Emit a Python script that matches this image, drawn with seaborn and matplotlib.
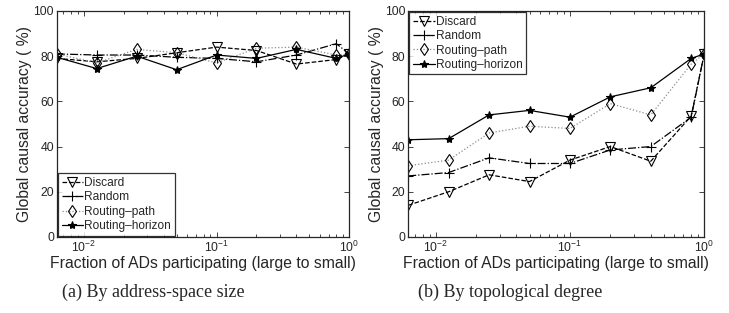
import matplotlib
matplotlib.use("Agg")
import matplotlib.pyplot as plt
import seaborn as sns
import pandas as pd

# fraction of ADs participating
fractions = [0.00625, 0.0125, 0.025, 0.05, 0.1, 0.2, 0.4, 0.8, 1.0]

# (a) by address-space size
a_discard = [79, 77.5, 79, 81.5, 84, 82.5, 76.5, 78.5, 81]
a_random = [81, 80.5, 80.5, 79.5, 79, 77.5, 80.5, 85.5, 81]
a_path = [81, 77, 83, 81.5, 77, 83.5, 84, 80.5, 81]
a_horizon = [79.5, 74.5, 80, 74, 80.5, 79, 83, 79, 81]

# (b) by topological degree
b_discard = [14, 20, 27.5, 24.5, 34, 40, 33.5, 53.5, 81]
b_random = [27, 28.5, 35, 32.5, 32.5, 38.5, 40, 53, 81]
b_path = [31.5, 34, 46, 49, 48, 59, 54, 76.5, 81]
b_horizon = [43, 43.5, 54, 56, 53, 62, 66, 79, 81]

names = ["Discard", "Random", "Routing\u2013path", "Routing\u2013horizon"]
captions = ["(a) By address-space size", "(b) By topological degree"]
caption_x = [0.21, 0.70]

styles = {
    "Discard": dict(ls="--", marker="v", color="black", ms=6.5, mfc="none"),
    "Random": dict(ls="-.", marker="+", color="black", ms=7.5, mfc="none"),
    "Routing\u2013path": dict(ls=":", marker="d", color="#8c8c8c", ms=6, mfc="none"),
    "Routing\u2013horizon": dict(ls="-", marker="*", color="black", ms=6, mfc="black"),
}

sns.set_style("ticks")
plt.rcParams["font.family"] = ["Liberation Sans", "DejaVu Sans"]

fig = plt.figure(figsize=(7.29, 3.13), dpi=100)
ax_a = fig.add_axes([0.078, 0.243, 0.401, 0.722])
ax_b = fig.add_axes([0.560, 0.243, 0.406, 0.722])

panels = [
    (ax_a, [a_discard, a_random, a_path, a_horizon], "lower left"),
    (ax_b, [b_discard, b_random, b_path, b_horizon], "upper left"),
]

for i, (ax, series, loc) in enumerate(panels):
    for name, vals in zip(names, series):
        st = styles[name]
        df = pd.DataFrame({"x": fractions, "y": vals})
        sns.lineplot(data=df, x="x", y="y", ax=ax, label=name,
                     linestyle=st["ls"], color=st["color"], lw=0.9,
                     marker=st["marker"], markersize=st["ms"],
                     mfc=st["mfc"], mec="black", mew=0.8)
    ax.set_xscale("log")
    ax.set_xlim(0.00625, 1.0)
    ax.set_ylim(0, 100)
    ax.set_yticks([0, 20, 40, 60, 80, 100])
    ax.set_xlabel("Fraction of ADs participating (large to small)", fontsize=11.3, labelpad=1)
    ax.set_ylabel("Global causal accuracy ( %)", fontsize=11.3, labelpad=1)
    ax.tick_params(which="both", direction="in", top=True, right=True, labelsize=8.8, width=0.6)
    ax.tick_params(which="major", length=3.5, pad=2)
    ax.tick_params(which="minor", length=2)
    for sp in ax.spines.values():
        sp.set_linewidth(0.9)
    leg = ax.legend(loc=loc, fontsize=8.6, frameon=True, fancybox=False,
                    borderaxespad=0.1, handlelength=1.8, handletextpad=0.1,
                    labelspacing=0.2, borderpad=0.3)
    leg.get_frame().set_edgecolor("black")
    leg.get_frame().set_linewidth(0.9)
    fig.text(caption_x[i], 0.067, captions[i], ha="center", va="center", fontsize=13,
             family=["Liberation Serif", "DejaVu Serif"])

fig.savefig("out.png", dpi=100)
